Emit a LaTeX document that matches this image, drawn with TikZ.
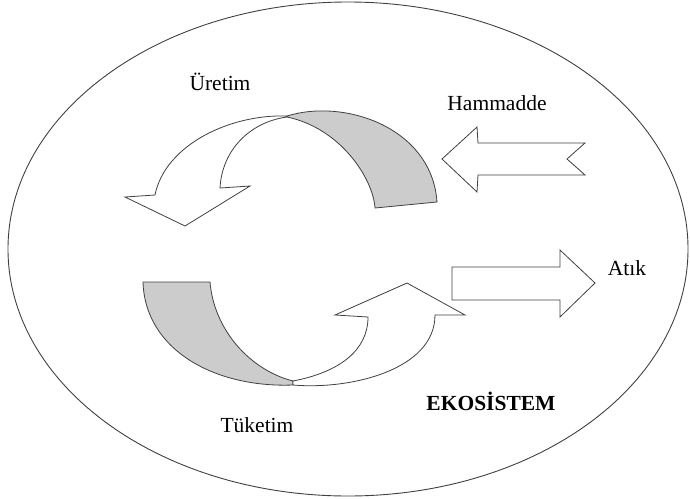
\documentclass[tikz,border=0pt]{standalone}
\usepackage{fontspec}
\setmainfont{Liberation Serif}
\begin{document}
\begin{tikzpicture}[x=1pt,y=-1pt,
  shapeline/.style={draw=black!75,line width=0.8pt,line join=miter},
  lbl/.style={font=\fontsize{21.5}{24}\selectfont,anchor=base,inner sep=0pt}]
\useasboundingbox (0,0) rectangle (690,498);
% ecosystem ellipse
\draw[black!75,line width=0.9pt] (348,249) ellipse [x radius=340, y radius=247];
% upper curved arrow (Üretim)
\path[shapeline,fill=white]
  (287,116) .. controls (230,114) and (165,145) .. (155,195)
  -- (125,197) -- (185,226) -- (250,186) -- (220,188)
  .. controls (222,150) and (250,122) .. (287,117) -- cycle;
\path[shapeline,fill=black!20]
  (287,116) .. controls (345,98) and (432,128) .. (437,202)
  -- (375,208)
  .. controls (373,178) and (340,128) .. (287,117) -- cycle;
% lower curved arrow (Tüketim)
\path[shapeline,fill=black!20]
  (143,282) -- (210,282)
  .. controls (214,330) and (250,370) .. (293,381)
  -- (293,385)
  .. controls (215,388) and (145,350) .. (143,282) -- cycle;
\path[shapeline,fill=white]
  (293,381) .. controls (340,372) and (368,350) .. (368,317)
  -- (335,315) -- (407,283) -- (465,315) -- (435,315)
  .. controls (435,370) and (350,390) .. (293,385) -- cycle;
% Hammadde arrow
\path[shapeline,fill=white] (442,159) -- (477,127) -- (478,143) -- (585,143) -- (567,159)
  -- (585,175) -- (478,175) -- (477,192) -- cycle;
% Atık arrow
\path[shapeline,fill=white] (452,267) -- (560,267) -- (560,250) -- (595,283) -- (560,317)
  -- (560,300) -- (452,300) -- cycle;
% labels
\node[lbl] (uretim) at (220,90) {Üretim};
\node[lbl] (hammadde) at (497,110.5) {Hammadde};
\node[lbl] (atik) at (627,275) {Atık};
\node[lbl] (tuketim) at (257,432) {Tüketim};
\node[lbl,font=\fontsize{21.5}{24}\selectfont\bfseries] (eko) at (491,410) {EKOSİSTEM};
\end{tikzpicture}
\end{document}
